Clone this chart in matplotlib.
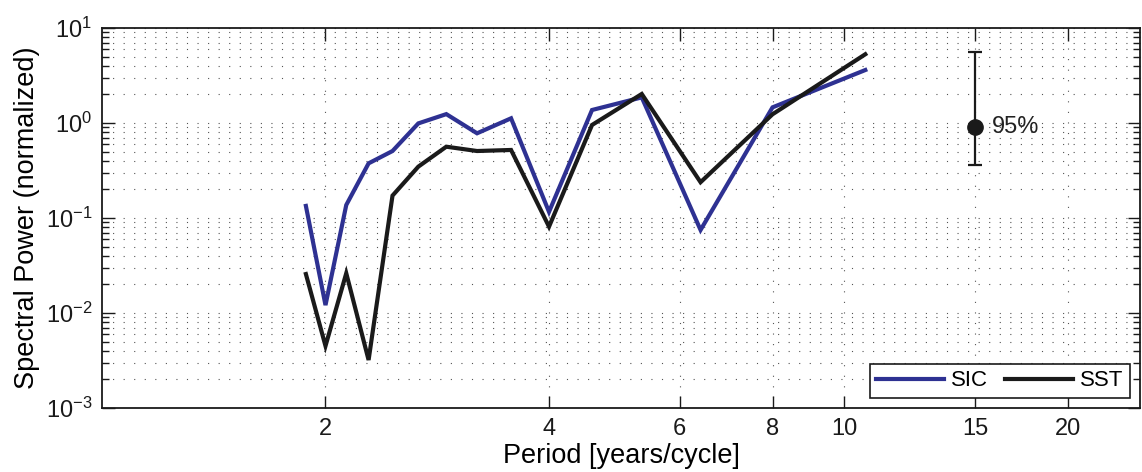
import numpy as np
import matplotlib
matplotlib.use("Agg")
import matplotlib.pyplot as plt
from matplotlib.ticker import FixedLocator, NullFormatter, LogLocator

plt.rcParams['font.family'] = ['Liberation Sans', 'DejaVu Sans']
plt.rcParams['mathtext.fontset'] = 'custom'
plt.rcParams['mathtext.rm'] = 'Liberation Sans'

# periods 32/k years for k = 17..3
period = [1.882, 2.0, 2.133, 2.286, 2.462, 2.667, 2.909, 3.2, 3.556,
          4.0, 4.571, 5.333, 6.4, 8.0, 10.667]
sic = [0.134, 0.0121, 0.137, 0.376, 0.507, 0.99, 1.24, 0.779, 1.12,
       0.116, 1.37, 1.86, 0.0748, 1.46, 3.61]
sst = [0.0257, 0.0045, 0.0262, 0.0032, 0.172, 0.347, 0.563, 0.507, 0.52,
       0.081, 0.953, 2.02, 0.238, 1.235, 5.29]

# 95% confidence bar
ci_x = 15
ci_mid = 0.90
ci_lo = 0.359
ci_hi = 5.55

xticks = [2, 4, 6, 8, 10, 15, 20]

fig = plt.figure(figsize=(11.42, 4.72), dpi=100)
ax = fig.add_axes([0.0893, 0.1356, 0.9089, 0.8051])

ax.plot(period, sic, color='#2e3192', lw=3.0, label='SIC', solid_joinstyle='miter')
ax.plot(period, sst, color='#1a1a1a', lw=3.0, label='SST', solid_joinstyle='miter')

ax.errorbar(ci_x, ci_mid, yerr=[[ci_mid - ci_lo], [ci_hi - ci_mid]], fmt='o',
            color='#1a1a1a', ms=11, elinewidth=1.6, capsize=4.8, capthick=1.6)
ax.text(15.8, ci_mid, '95%', fontsize=17, va='center', ha='left', color='#222222')

ax.set_xscale('log')
ax.set_yscale('log')
ax.set_xlim(1, 25)
ax.set_ylim(1e-3, 10)

ax.xaxis.set_major_locator(FixedLocator(xticks))
ax.set_xticklabels([str(t) for t in xticks])
ax.xaxis.set_minor_locator(FixedLocator([]))
ax.xaxis.set_minor_formatter(NullFormatter())
ax.yaxis.set_major_locator(LogLocator(base=10, numticks=10))
ax.yaxis.set_minor_locator(LogLocator(base=10, subs=np.arange(2, 10), numticks=10))
ax.yaxis.set_minor_formatter(NullFormatter())

ax.tick_params(which='both', direction='in', top=True, right=True,
               labelsize=17, colors='#1a1a1a', width=1)
ax.tick_params(which='major', length=9, pad=7)
ax.tick_params(which='minor', length=5)

grid_style = dict(linestyle=(0, (1, 8.5)), linewidth=0.8, color='#555555')
ax.grid(True, which='major', axis='both', **grid_style)
ax.grid(True, which='minor', axis='y', **grid_style)

for s in ax.spines.values():
    s.set_linewidth(1.3)
    s.set_color('#1a1a1a')

ax.set_xlabel('Period [years/cycle]', fontsize=19.5)
ax.xaxis.set_label_coords(0.5, -0.092)
ax.set_ylabel('Spectral Power (normalized)', fontsize=19.5, labelpad=4)

leg = ax.legend(loc='lower right', ncol=2, fontsize=16, fancybox=False,
                edgecolor='#1a1a1a', handlelength=3.05, borderaxespad=0.45,
                columnspacing=0.8, handletextpad=0.3, borderpad=0.3)
leg.get_frame().set_linewidth(1.2)
leg.get_frame().set_alpha(1)

fig.savefig('out.png', dpi=100)
